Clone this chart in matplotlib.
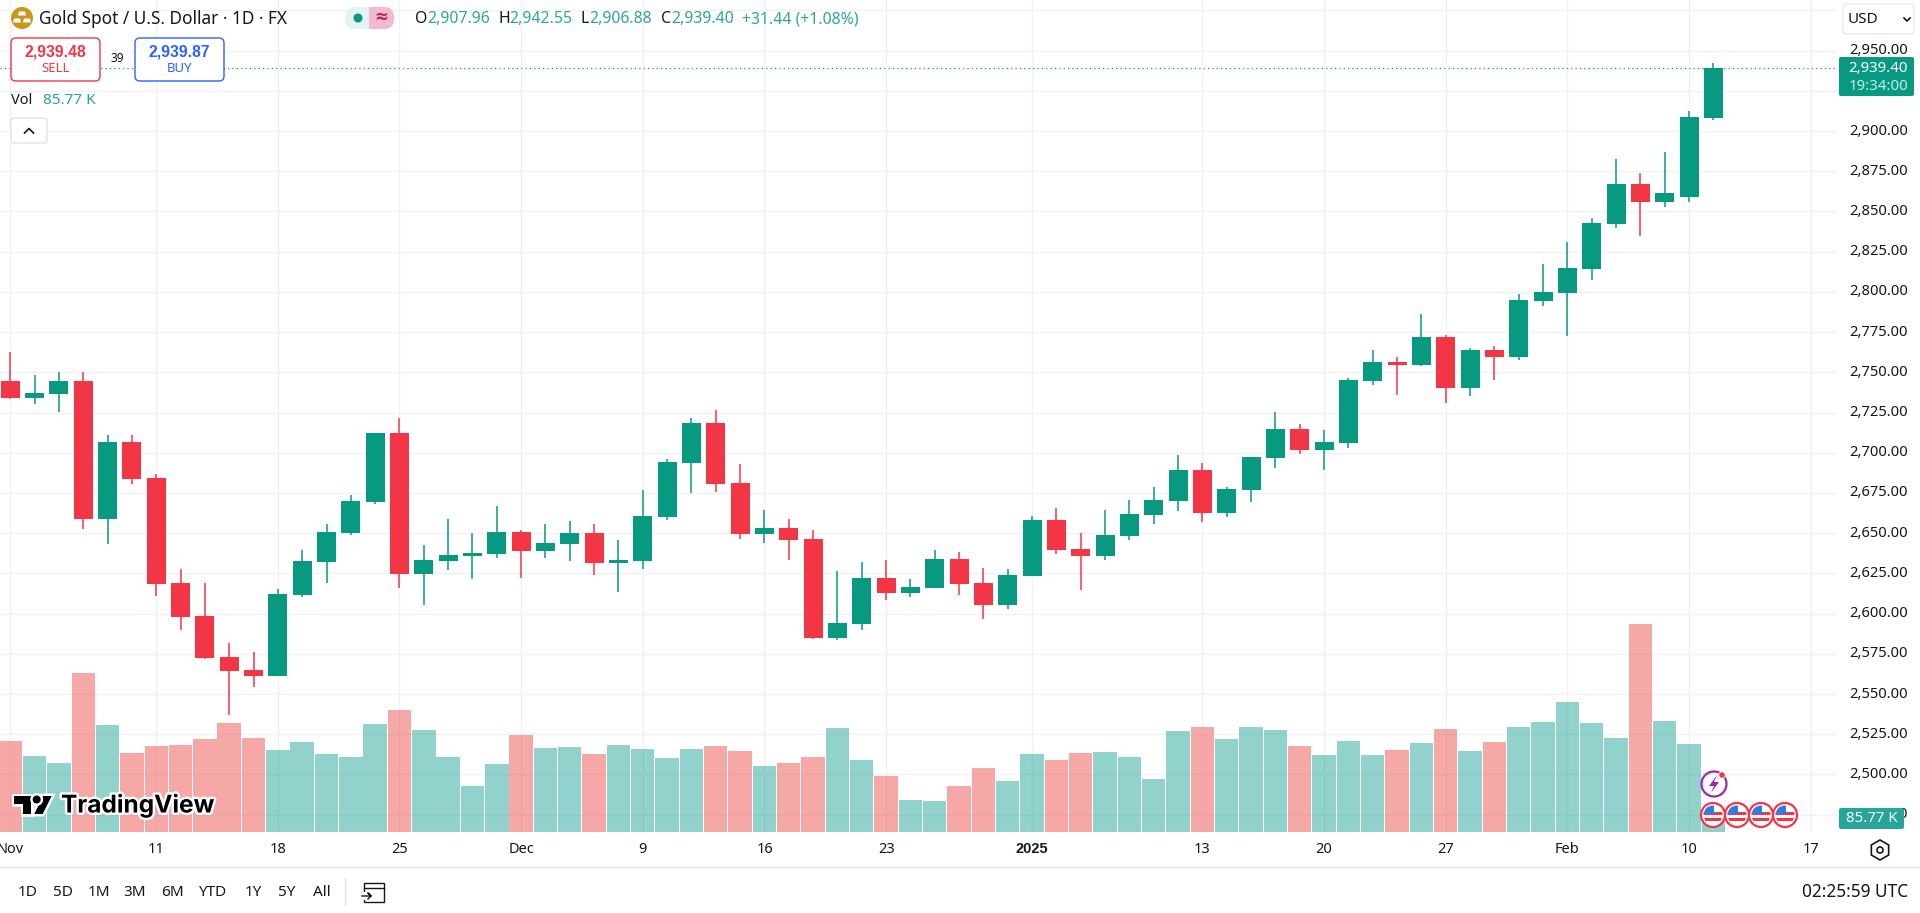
import matplotlib
matplotlib.use('Agg')
import matplotlib.pyplot as plt
import matplotlib.patheffects as pe
from matplotlib.patches import Circle, FancyBboxPatch, Polygon, Rectangle, Arc, RegularPolygon
from matplotlib.transforms import ScaledTranslation
import numpy as np

plt.rcParams['font.family'] = ['Noto Sans', 'DejaVu Sans']

opens = [2744.6, 2734.3, 2736.8, 2744.6, 2659.0, 2706.7, 2684.3, 2619.0, 2598.5, 2572.8,
         2564.9, 2561.4, 2611.8, 2632.3, 2650.3, 2669.6, 2712.3, 2624.8, 2632.9, 2635.8,
         2637.3, 2650.8, 2639.1, 2643.5, 2650.1, 2631.7, 2632.9, 2660.3, 2693.9, 2718.5,
         2681.2, 2649.7, 2653.2, 2646.4, 2585.1, 2593.8, 2622.1, 2613.0, 2616.1, 2634.0,
         2619.0, 2605.4, 2623.6, 2658.2, 2640.2, 2635.8, 2648.3, 2661.3, 2670.0, 2689.3,
         2662.6, 2676.9, 2697.0, 2714.8, 2701.7, 2706.1, 2744.8, 2756.4, 2754.8, 2772.0,
         2740.5, 2763.9, 2759.8, 2794.6, 2799.5, 2814.5, 2842.4, 2867.1, 2856.1, 2859.2,
         2907.96]
highs = [2762.5, 2748.4, 2750.0, 2750.0, 2711.1, 2711.1, 2686.6, 2627.7, 2619.0, 2581.5,
         2575.9, 2615.5, 2639.6, 2655.7, 2673.5, 2712.3, 2721.6, 2642.5, 2658.8, 2650.1,
         2666.9, 2652.0, 2655.7, 2657.4, 2655.7, 2645.8, 2676.9, 2696.1, 2721.4, 2726.6,
         2693.0, 2664.4, 2658.8, 2652.0, 2626.5, 2632.1, 2633.3, 2621.5, 2639.6, 2638.3,
         2628.4, 2627.7, 2660.7, 2665.7, 2650.1, 2664.4, 2670.6, 2678.7, 2698.6, 2693.6,
         2678.7, 2697.4, 2725.4, 2717.9, 2714.2, 2746.4, 2763.9, 2759.3, 2786.5, 2773.2,
         2764.9, 2766.2, 2798.7, 2817.4, 2831.0, 2846.0, 2882.6, 2874.0, 2887.0, 2912.5,
         2942.55]
lows = [2733.7, 2730.5, 2725.6, 2652.8, 2643.5, 2680.8, 2611.2, 2590.0, 2572.0, 2537.2,
        2554.6, 2561.4, 2610.5, 2619.2, 2649.1, 2668.4, 2616.1, 2605.6, 2627.1, 2621.5,
        2634.8, 2622.4, 2634.8, 2632.9, 2624.2, 2613.7, 2627.9, 2658.4, 2675.2, 2675.8,
        2646.4, 2644.1, 2633.5, 2584.4, 2583.6, 2589.8, 2608.7, 2610.5, 2616.0, 2611.6,
        2596.9, 2603.1, 2623.6, 2637.3, 2614.9, 2633.5, 2645.8, 2655.7, 2663.8, 2657.0,
        2660.3, 2669.4, 2690.7, 2699.5, 2689.3, 2703.0, 2742.3, 2736.1, 2754.2, 2731.1,
        2735.5, 2745.5, 2757.9, 2791.5, 2772.8, 2807.6, 2840.0, 2835.0, 2853.0, 2856.1,
        2906.88]
closes = [2734.3, 2737.2, 2744.6, 2659.0, 2706.7, 2683.9, 2618.6, 2598.1, 2572.6, 2564.5,
          2561.4, 2612.2, 2632.7, 2650.8, 2670.0, 2712.3, 2624.8, 2633.3, 2636.4, 2637.7,
          2650.8, 2639.1, 2643.9, 2650.1, 2631.7, 2633.3, 2660.7, 2694.3, 2718.5, 2680.8,
          2649.7, 2653.2, 2646.0, 2585.1, 2594.2, 2622.1, 2613.0, 2616.6, 2634.0, 2618.6,
          2605.4, 2624.0, 2658.2, 2639.6, 2635.8, 2648.9, 2661.9, 2670.6, 2689.3, 2662.6,
          2677.5, 2697.4, 2714.8, 2701.7, 2706.7, 2745.3, 2756.4, 2754.6, 2772.0, 2740.5,
          2763.9, 2759.8, 2795.0, 2800.0, 2814.9, 2842.9, 2867.1, 2856.1, 2861.5, 2908.8,
          2939.40]
# volume in thousands
volumes = [495, 413, 375, 866, 582, 430, 468, 473, 506, 593,
           511, 446, 490, 424, 408, 588, 664, 555, 408, 249,
           369, 528, 457, 462, 424, 473, 451, 402, 451, 468,
           440, 359, 375, 408, 566, 391, 304, 173, 167, 249,
           348, 277, 424, 391, 430, 435, 408, 288, 550, 571,
           506, 571, 555, 468, 419, 495, 419, 446, 484, 561,
           440, 490, 571, 599, 708, 593, 511, 1134, 604, 479,
           85.77]

date_ticks = [0, 6, 11, 16, 21, 26, 31, 36, 42, 49, 54, 59, 64, 69, 74]
date_labels = ['Nov', '11', '18', '25', 'Dec', '9', '16', '23', '2025', '13', '20', '27', 'Feb', '10', '17']
price_ticks = [2475, 2500, 2525, 2550, 2575, 2600, 2625, 2650, 2675, 2700, 2725, 2750, 2775,
               2800, 2825, 2850, 2875, 2900, 2925, 2950, 2975]
ranges = ['1D', '5D', '1M', '3M', '6M', 'YTD', '1Y', '5Y', 'All']
range_x = [27.5, 62.5, 98.6, 135, 172, 212.5, 253, 287, 321.5]

UP = '#089981'
DOWN = '#F23645'
GRID = '#f1f2f5'
TEXT = '#131722'
W, H = 1920, 913
PLOT_R, PLOT_B = 1837, 832

fig = plt.figure(figsize=(19.2, 9.13), dpi=100)
ax = fig.add_axes([0, 1 - PLOT_B / H, PLOT_R / W, PLOT_B / H])

x = np.arange(len(closes))
colors = [UP if c >= o else DOWN for o, c in zip(opens, closes)]
bottoms = np.minimum(opens, closes)
heights = np.abs(np.array(closes) - np.array(opens))

ax.vlines(x, lows, highs, colors=colors, linewidth=1.1, zorder=3)
ax.bar(x, heights, bottom=bottoms, width=0.78, color=colors, linewidth=0, zorder=4)
ax.axhline(closes[-1], color=UP, linestyle=(0, (1, 2.5)), linewidth=0.9, zorder=2)

ax.set_xlim(-0.419, 75.08)
ax.set_ylim(2464.2, 2981.5)

# volume pane shares the same box
vol = ax.twinx()
vol.bar(x, volumes, width=0.96, color=['#26a69a' if c == UP else '#ef5350' for c in colors],
        alpha=0.5, linewidth=0)
vol.set_ylim(0, 832 * 5.46)
vol.axis('off')

# twinx moves the price ticks to the left, so set them up afterwards
ax.yaxis.tick_right()
ax.set_xticks(date_ticks, date_labels)
ax.set_yticks(price_ticks, ['' if p == 2975 else f'{p:,.2f}' for p in price_ticks])
ax.tick_params(axis='x', length=0, pad=7.5, labelsize=10.5, labelcolor=TEXT)
ax.tick_params(axis='y', length=0, pad=8.5, labelsize=10.6, labelcolor=TEXT)
year = ax.get_xticklabels()[8]
year.set_fontfamily('Liberation Sans')
year.set_fontweight('bold')
ax.grid(True, color=GRID, linewidth=1)
ax.set_axisbelow(True)
for s in ax.spines.values():
    s.set_visible(False)
# price labels sit a little above their grid lines
nudge = ScaledTranslation(0, 2 / 100, fig.dpi_scale_trans)
for t in ax.yaxis.get_major_ticks():
    t.label2.set_transform(t.label2.get_transform() + nudge)

# everything around the chart is drawn in pixel coordinates
ui = fig.add_axes([0, 0, 1, 1], zorder=5)
ui.set_xlim(0, W)
ui.set_ylim(H, 0)
ui.axis('off')


def label(px, py, s, color=TEXT, size=10.5, ha='left', **kw):
    return ui.text(px, py, s, color=color, fontsize=size, ha=ha, va='center', **kw)


def box(x0, y0, x1, y1, fc='white', ec='none', r=5, lw=1.0):
    p = FancyBboxPatch((x0 + r, y0 + r), x1 - x0 - 2 * r, y1 - y0 - 2 * r,
                       boxstyle=f'round,pad={r}', fc=fc, ec=ec, lw=lw)
    ui.add_patch(p)
    return p


def flag(cx, cy, r=12):
    ui.add_patch(Circle((cx, cy), r, fc='white', ec=DOWN, lw=1.6))
    clip = Circle((cx, cy), r - 2.5, transform=ui.transData)
    for dy, c in [(-3, DOWN), (3.5, DOWN)]:
        s = Rectangle((cx - r, cy + dy), 2 * r, 3, fc=c, ec='none')
        ui.add_patch(s)
        s.set_clip_path(clip)
    s = Rectangle((cx - r, cy - r), r + 1, r - 0.5, fc='#2f7de1', ec='none')
    ui.add_patch(s)
    s.set_clip_path(clip)


# header
ui.add_patch(Circle((22, 18), 11, fc='#C9971B', ec='none'))
for bx, by in [(22, 13.5), (17, 20.5), (27, 20.5)]:
    ui.add_patch(Polygon([(bx - 3, by - 2), (bx + 3, by - 2), (bx + 4, by + 2), (bx - 4, by + 2)], fc='white', ec='none'))
label(39, 19.5, 'Gold Spot / U.S. Dollar · 1D · FX', size=12.4)
box(345, 7, 394, 29, fc='#e3f3f1', r=10)
p = box(345, 7, 394, 29, fc='#f7b9d2', r=10)
p.set_clip_path(Rectangle((369, 0), 30, 40, transform=ui.transData))
ui.add_patch(Circle((358, 18), 4.5, fc=UP, ec='none'))
label(381, 18, '≈', color='#c2185b', size=12, ha='center', fontweight='bold')

for px, s, c in [(415, 'O', TEXT), (427, '2,907.96', UP), (498, 'H', TEXT), (509, '2,942.55', UP),
                 (580, 'L', TEXT), (589, '2,906.88', UP), (661, 'C', TEXT), (671, '2,939.40', UP),
                 (742, '+31.44 (+1.08%)', UP)]:
    label(px, 19, s, color=c, size=11.4, alpha=1 if c == TEXT else 0.85)

# sell / buy
box(11, 38, 100, 81, ec=DOWN, lw=1)
box(135, 38, 224, 81, ec='#2962FF', lw=1)
label(55.5, 52, '2,939.48', color=DOWN, size=11.3, ha='center', fontfamily='Liberation Sans', fontweight='bold')
label(55.5, 69, 'SELL', color=DOWN, size=9.5, ha='center')
label(179.5, 52, '2,939.87', color='#2962FF', size=11.3, ha='center', fontfamily='Liberation Sans', fontweight='bold')
label(179.5, 69, 'BUY', color='#2962FF', size=9.5, ha='center')
ui.add_patch(Rectangle((107, 51), 22, 16, fc='white', ec='none'))
label(117.5, 59, '39', size=8.5, ha='center')

label(11, 101, 'Vol', size=10.5)
label(43, 101, '85.77 K', color='#26a69a', size=11)
box(11, 118, 47, 143, ec='#e0e3eb', r=3)
ui.plot([24.5, 29, 33.5], [133, 128.5, 133], color=TEXT, lw=1.2)

# USD and last price boxes
box(1843, 4, 1914, 34, ec='#e8eaf0', r=4)
label(1848, 19.5, 'USD', size=11)
ui.plot([1904, 1907, 1910], [18, 21, 18], color=TEXT, lw=1.2)
box(1839, 57, 1914, 96, fc=UP, r=2)
label(1908, 68.5, '2,939.40', color='white', size=10.8, ha='right')
label(1908, 86, '19:34:00', color='#c4ede6', size=10.8, ha='right')
box(1839, 808, 1904, 829, fc='#26a69a', r=2)
label(1871.5, 818.5, '85.77 K', color='white', size=10.8, ha='center')

# events
ui.add_patch(Arc((1714, 784), 25, 25, lw=1.6, color='#9C27B0'))
ui.add_patch(Polygon([(1717, 775), (1709, 786), (1714, 786), (1711, 793), (1719, 782), (1714, 782)],
                     fc='#9C27B0', ec='none'))
ui.add_patch(Circle((1722, 775), 3.2, fc=DOWN, ec='white', lw=0.6))
for cx in [1713, 1737, 1761, 1785]:
    flag(cx, 815)

# TradingView mark
outline = [pe.withStroke(linewidth=3.5, foreground='white')]
for shape in [Polygon([(14, 796), (30.7, 796), (30.7, 814), (22.7, 814), (22.7, 804), (14, 804)], fc='black', ec='none'),
              Polygon([(43, 796), (51.7, 796), (42.7, 814), (34.3, 814)], fc='black', ec='none'),
              Circle((36.7, 799.5), 4, fc='black', ec='none')]:
    shape.set_path_effects(outline)
    ui.add_patch(shape)
label(61, 805, 'TradingView', color='black', size=17.6, fontfamily='Inter', fontweight='bold', path_effects=outline)

# bottom bar
ui.plot([0, W], [867.5, 867.5], color='#e0e3eb', lw=1)
for px, s in zip(range_x, ranges):
    label(px, 892, s, size=11, ha='center')
ui.plot([345, 345], [878, 905], color='#e0e3eb', lw=1)
ui.add_patch(Rectangle((364, 883), 20, 19, fc='none', ec=TEXT, lw=1))
ui.plot([364, 384], [888, 888], color=TEXT, lw=1)
ui.add_patch(Rectangle((360, 892), 9, 8, fc='white', ec='none'))
ui.plot([362, 371, 368, 371, 368], [896, 896, 893, 896, 899], color=TEXT, lw=1)
label(1908, 892, '02:25:59 UTC', size=12.4, ha='right')
ui.add_patch(RegularPolygon((1880, 850), 6, radius=10, fc='none', ec=TEXT, lw=1.2))
ui.add_patch(Circle((1880, 850), 3, fc='none', ec=TEXT, lw=1.2))

fig.savefig('out.png', dpi=100)
